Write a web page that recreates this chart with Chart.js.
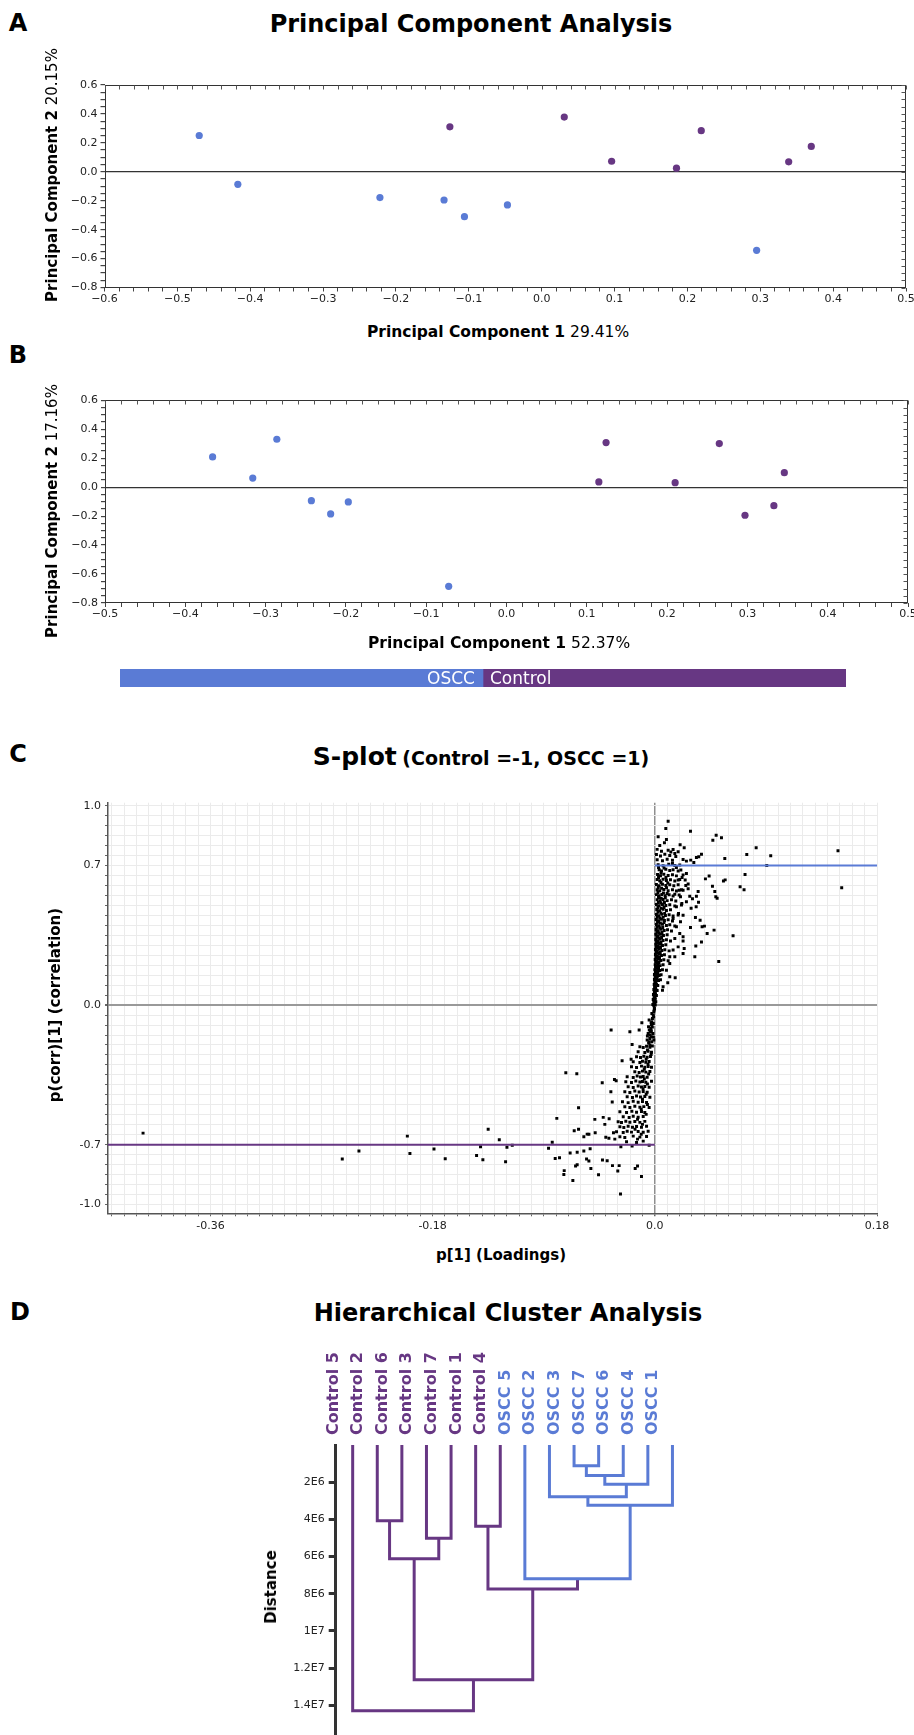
<!DOCTYPE html>
<html>
<head>
<meta charset="utf-8">
<title>PCA, S-plot and hierarchical clustering</title>
<script src="https://cdn.jsdelivr.net/npm/chart.js@4.4.0/dist/chart.umd.min.js"></script>
<style>
  body { margin: 0; background: #fff; }
  #page { position: relative; width: 914px; height: 1735px; overflow: hidden; font-family: "DejaVu Sans", sans-serif; color: #000; }
  #page canvas { position: absolute; }
  .lbl { position: absolute; white-space: nowrap; transform: translate(-50%, -50%); }
  .rot { position: absolute; white-space: nowrap; transform: translate(-50%, -50%) rotate(-90deg); }
  .big { font-weight: bold; font-size: 24px; }
</style>
</head>
<body>
<div id="page">
  <canvas id="pcaA" width="914" height="250" style="left:0;top:70px"></canvas>
  <canvas id="pcaB" width="914" height="250" style="left:0;top:385px"></canvas>
  <canvas id="classBar" width="726" height="18" style="left:120px;top:669px"></canvas>
  <canvas id="splot" width="914" height="450" style="left:0;top:790px"></canvas>
  <canvas id="hca" width="914" height="405" style="left:0;top:1330px"></canvas>

  <div class="lbl big" style="left:18px;top:23px">A</div>
  <div class="lbl big" style="left:471px;top:24px">Principal Component Analysis</div>
  <div class="rot" style="left:52px;top:175px;font-size:15px"><b>Principal Component 2</b> 20.15%</div>
  <div class="lbl" style="left:498px;top:332px;font-size:15.5px"><b>Principal Component 1</b> 29.41%</div>

  <div class="lbl big" style="left:18px;top:355px">B</div>
  <div class="rot" style="left:52px;top:511px;font-size:15px"><b>Principal Component 2</b> 17.16%</div>
  <div class="lbl" style="left:499px;top:643px;font-size:15.5px"><b>Principal Component 1</b> 52.37%</div>
  <div style="position:absolute;right:439px;top:668px;font-size:17px;line-height:20px;color:#fff">OSCC</div>
  <div style="position:absolute;left:490px;top:668px;font-size:17px;line-height:20px;color:#fff">Control</div>

  <div class="lbl big" style="left:18px;top:754px">C</div>
  <div class="lbl" style="left:481px;top:756px;font-weight:bold"><span style="font-size:25px">S-plot</span> <span style="font-size:19px">(Control =-1, OSCC =1)</span></div>
  <div class="rot" style="left:55px;top:1005px;font-size:15px;font-weight:bold">p(corr)[1] (correlation)</div>
  <div class="lbl" style="left:501px;top:1255px;font-size:15px;font-weight:bold">p[1] (Loadings)</div>

  <div class="lbl big" style="left:20px;top:1312px">D</div>
  <div class="lbl big" style="left:508px;top:1313px">Hierarchical Cluster Analysis</div>
  <div class="rot" style="left:271px;top:1587px;font-size:15px;font-weight:bold">Distance</div>
</div>

<script>
const BLUE = '#5a7bd5';
const PURPLE = '#673783';
const FONT = "'DejaVu Sans', sans-serif";

// ---- A: PCA scores, all features ----
const pcaA_osccX = [-0.470, -0.417, -0.222, -0.134, -0.106, -0.047, 0.295];
const pcaA_osccY = [0.251, -0.087, -0.178, -0.195, -0.310, -0.229, -0.543];
const pcaA_ctrlX = [-0.126, 0.031, 0.096, 0.185, 0.219, 0.339, 0.370];
const pcaA_ctrlY = [0.311, 0.378, 0.073, 0.025, 0.284, 0.069, 0.175];
const pcaA_xLabels = [-0.6, -0.5, -0.4, -0.3, -0.2, -0.1, 0, 0.1, 0.2, 0.3, 0.4, 0.5];

// ---- B: PCA scores, selected features ----
const pcaB_osccX = [-0.366, -0.316, -0.286, -0.243, -0.219, -0.197, -0.072];
const pcaB_osccY = [0.209, 0.063, 0.331, -0.093, -0.185, -0.102, -0.685];
const pcaB_ctrlX = [0.115, 0.124, 0.210, 0.265, 0.297, 0.333, 0.346];
const pcaB_ctrlY = [0.036, 0.308, 0.031, 0.301, -0.194, -0.128, 0.100];
const pcaB_xLabels = [-0.5, -0.4, -0.3, -0.2, -0.1, 0, 0.1, 0.2, 0.3, 0.4, 0.5];

const pca_yLabels = [-0.8, -0.6, -0.4, -0.2, 0, 0.2, 0.4, 0.6];
const classNames = ['OSCC', 'Control'];
const classCounts = [7, 7];

// ---- C: S-plot, [p[1], p(corr)[1]] ----
const splot_xLabels = [-0.36, -0.18, 0, 0.18];
const splot_yLabels = [-1.0, -0.7, 0, 0.7, 1.0];
const splot_cutoffs = [0.7, -0.7];

const splotPos = [
  [.0108,.922],[.0089,.886],[.0289,.872],[.0497,.852],[.0470,.827],[.0540,.839],[.0027,.844],[.0094,.830],
  [.0205,.804],[.0238,.789],[.0040,.800],[.0078,.814],[.0821,.789],[.0745,.755],[.0939,.749],[.1484,.774],
  [.0907,.700],[.1514,.588],[.0567,.735],[.0731,.655],[.0570,.628],[.0556,.622],[.0691,.593],[.0723,.578],
  [.0440,.647],[.0410,.633],[.0467,.596],[.0486,.570],[.0494,.543],[.0505,.536],[.0634,.348],[.0518,.219],
  [.0480,.376],[.0424,.359],[.0378,.316],[.0332,.296],[.0324,.242],[.0165,.137],[.0105,.112],[.0378,.757],
  [.0356,.744],[.0337,.740],[.0316,.715],[.0291,.727],[.0256,.722],[.0229,.730],[.0351,.570],[.0337,.546],
  [.0354,.516],[.0335,.493],[.0294,.486],[.0305,.533],[.0270,.583],[.0283,.546],[.0329,.439],[.0367,.426],
  [.0383,.393],[.0402,.396],[.0289,.389],[.0229,.322],[.0238,.284],[.0229,.259],
  [.0148,.780],[.0162,.760],[.0189,.769],[.0143,.710],[.0175,.690],[.0211,.677],[.0256,.660],[.0221,.640],
  [.0189,.627],[.0246,.627],[.0270,.607],[.0229,.576],[.0197,.576],[.0162,.556],[.0208,.543],[.0256,.518],
  [.0219,.510],[.0175,.493],[.0192,.459],[.0229,.451],[.0148,.434],[.0208,.418],[.0175,.393],[.0202,.359],
  [.0162,.334],[.0229,.343],[.0189,.292],[.0148,.276],[.0121,.242],[.0162,.242],[.0121,.209],[.0094,.175],
  [.0121,.142],[.0067,.092],[.0062,.075],
  [.0019,.781],[.0054,.771],[.0108,.777],[.0130,.768],
  [.0013,.755],[.0046,.748],[.0081,.757],[.0121,.750],[.0170,.745],
  [.0019,.729],[.0062,.724],[.0100,.731],[.0143,.726],
  [.0027,.704],[.0067,.699],[.0113,.706],[.0162,.700],[.0202,.703],
  [.0035,.679],[.0054,.673],[.0089,.681],[.0121,.675],[.0148,.679],[.0189,.672],
  [.0022,.655],[.0046,.649],[.0073,.656],[.0108,.650],[.0143,.654],[.0175,.648],[.0229,.653],
  [.0019,.630],[.0040,.624],[.0067,.631],[.0094,.625],[.0127,.629],[.0162,.622],[.0202,.630],
  [.0013,.605],[.0035,.599],[.0062,.606],[.0089,.600],[.0121,.604],[.0154,.598],[.0189,.603],[.0251,.600],
  [.0019,.579],[.0040,.573],[.0073,.580],[.0108,.574],[.0143,.578],[.0175,.572],[.0216,.579],
  [.0013,.554],[.0035,.548],[.0057,.555],[.0084,.549],[.0116,.553],[.0148,.547],[.0197,.552],
  [.0019,.529],[.0043,.523],[.0067,.530],[.0100,.524],[.0135,.528],[.0170,.522],
  [.0013,.504],[.0035,.498],[.0062,.505],[.0089,.499],[.0121,.503],[.0162,.497],[.0216,.502],
  [.0016,.479],[.0038,.473],[.0067,.480],[.0094,.474],[.0127,.478],
  [.0013,.454],[.0032,.448],[.0057,.455],[.0086,.449],[.0116,.453],[.0148,.447],[.0189,.452],
  [.0011,.429],[.0030,.423],[.0054,.430],[.0078,.424],[.0108,.428],[.0143,.422],
  [.0013,.404],[.0035,.398],[.0062,.405],[.0094,.399],[.0121,.403],[.0162,.397],
  [.0011,.379],[.0027,.373],[.0051,.380],[.0076,.374],[.0103,.378],[.0135,.372],
  [.0008,.354],[.0024,.348],[.0046,.355],[.0070,.349],[.0100,.353],
  [.0008,.329],[.0024,.323],[.0043,.330],[.0067,.324],[.0094,.328],[.0127,.322],
  [.0008,.304],[.0022,.298],[.0040,.305],[.0062,.299],[.0089,.303],
  [.0005,.279],[.0019,.273],[.0035,.280],[.0057,.274],[.0081,.278],[.0116,.272],
  [.0005,.254],[.0019,.248],[.0035,.255],[.0054,.249],[.0078,.253],
  [.0003,.229],[.0013,.223],[.0030,.230],[.0049,.224],[.0073,.228],[.0108,.222],
  [.0003,.203],[.0013,.197],[.0027,.204],[.0043,.198],[.0067,.202],
  [0,.178],[.0011,.172],[.0024,.179],[.0040,.173],[.0062,.177],
  [-.0003,.153],[.0008,.147],[.0019,.154],[.0035,.148],[.0051,.152],
  [-.0003,.128],[.0005,.122],[.0016,.129],[.0030,.123],[.0046,.127],
  [-.0005,.103],[.0003,.097],[.0013,.104],[.0024,.098],
  [-.0008,.078],[0,.072],[.0008,.079],[.0019,.073],
  [-.0011,.053],[-.0003,.047],[.0005,.054],[.0013,.048],
  [-.0013,.028],[-.0005,.022],[.0003,.029],[.0008,.017],
  [.0030,.690],[.0075,.688],[.0050,.662],[.0090,.640],[.0030,.640],[.0050,.615],[.0105,.612],[.0028,.590],
  [.0055,.586],[.0095,.588],[.0025,.565],[.0070,.562],[.0100,.560],[.0030,.540],[.0052,.536],[.0085,.538],
  [.0028,.515],[.0050,.512],[.0078,.514],[.0025,.490],[.0052,.486],[.0075,.490],[.0025,.465],[.0050,.462],
  [.0080,.460],[.0020,.440],[.0042,.437],[.0068,.440],[.0022,.415],[.0045,.412],[.0075,.414],[.0018,.390],
  [.0040,.387],[.0064,.389],[.0016,.365],[.0034,.362],[.0058,.364],[.0016,.340],[.0034,.337],[.0055,.339],
  [.0014,.315],[.0030,.312],[.0050,.314],[.0012,.290],[.0027,.287],[.0046,.289],[.0012,.265],[.0026,.262],
  [.0044,.264],[.0010,.240],[.0022,.237],[.0038,.239],[.0008,.215],[.0020,.212],[.0034,.214],[.0006,.190],
  [.0017,.187],[.0030,.189],[.0004,.165],[.0014,.162],[.0025,.164],[.0002,.140],[.0011,.137],[.0020,.139],
  [0,.115],[.0009,.112],[-.0002,.090],[.0006,.087],[-.0004,.065],[.0004,.062],[-.0006,.040],[.0002,.037],
  [-.0008,.015],[-.0016,.003],[0,.006]
];

const splotNeg = [
  [-.0008,-.003],[.0003,0],[-.0003,-.017],[-.0008,-.033],[-.0013,-.050],[-.0019,-.067],[-.0024,-.084],[-.0027,-.100],
  [-.0032,-.117],[-.0035,-.134],[-.0038,-.150],[-.0040,-.167],[-.0024,-.042],[-.0013,-.092],[-.0046,-.075],
  [-.0051,-.109],[-.0030,-.159],[-.0016,-.142],[-.0054,-.142],[-.0046,-.184],[-.0024,-.184],[-.0062,-.175],
  [-.0008,-.175],[-.0040,-.200],[-.0005,-.025],[-.0010,-.058],[-.0020,-.110],[-.0030,-.088],[-.0045,-.125],
  [-.0060,-.155],[-.0028,-.130],[-.0012,-.160],[-.0050,-.190],[-.0020,-.205],
  [-.0354,-.125],[-.0202,-.134],[-.0127,-.125],[-.0105,-.089],[-.0184,-.197],[-.0265,-.279],[-.0192,-.272],
  [-.0426,-.389],[-.0327,-.373],[-.0313,-.379],[-.0356,-.434],[-.0345,-.486],[-.0418,-.563],[-.0370,-.570],
  [-.0405,-.598],[-.0397,-.663],[-.0372,-.668],[-.0335,-.640],[-.0324,-.672],[-.0275,-.710],[-.0184,-.707],
  [-.0046,-.703],[-.0424,-.777],[-.0386,-.780],[-.0343,-.805],[-.0289,-.805],[-.0300,-.832],[-.0159,-.819],
  [-.0140,-.807],[-.0108,-.860],[-.0278,-.947],
  [-.0121,-.209],[-.0094,-.213],[-.0067,-.206],[-.0040,-.211],
  [-.0135,-.234],[-.0081,-.238],[-.0054,-.231],[-.0027,-.236],
  [-.0148,-.259],[-.0116,-.263],[-.0089,-.256],[-.0062,-.261],[-.0035,-.258],
  [-.0175,-.284],[-.0121,-.288],[-.0100,-.281],[-.0073,-.286],[-.0046,-.283],
  [-.0189,-.309],[-.0148,-.313],[-.0108,-.306],[-.0081,-.311],[-.0054,-.308],[-.0027,-.312],
  [-.0162,-.334],[-.0127,-.338],[-.0100,-.331],[-.0073,-.336],[-.0040,-.333],
  [-.0224,-.359],[-.0175,-.363],[-.0143,-.356],[-.0116,-.361],[-.0094,-.358],[-.0062,-.362],
  [-.0235,-.384],[-.0189,-.388],[-.0154,-.381],[-.0121,-.386],[-.0100,-.383],[-.0073,-.387],[-.0027,-.382],
  [-.0216,-.409],[-.0175,-.413],[-.0135,-.406],[-.0108,-.411],[-.0081,-.408],[-.0046,-.412],
  [-.0243,-.434],[-.0202,-.438],[-.0162,-.431],[-.0127,-.436],[-.0094,-.433],[-.0062,-.437],
  [-.0224,-.459],[-.0181,-.463],[-.0148,-.456],[-.0116,-.461],[-.0081,-.458],[-.0040,-.462],
  [-.0262,-.485],[-.0216,-.489],[-.0175,-.482],[-.0135,-.487],[-.0100,-.484],[-.0067,-.488],
  [-.0243,-.510],[-.0202,-.514],[-.0162,-.507],[-.0121,-.512],[-.0089,-.509],[-.0046,-.513],
  [-.0283,-.535],[-.0229,-.539],[-.0186,-.532],[-.0148,-.537],[-.0108,-.534],[-.0081,-.538],
  [-.0256,-.560],[-.0208,-.564],[-.0175,-.557],[-.0135,-.562],[-.0094,-.559],
  [-.0297,-.585],[-.0270,-.589],[-.0235,-.582],[-.0202,-.587],[-.0162,-.584],[-.0121,-.588],[-.0081,-.583],
  [-.0283,-.610],[-.0251,-.614],[-.0216,-.607],[-.0181,-.612],[-.0148,-.609],[-.0108,-.613],[-.0067,-.608],
  [-.0310,-.635],[-.0256,-.639],[-.0224,-.632],[-.0189,-.637],[-.0135,-.634],[-.0094,-.638],[-.0054,-.633],
  [-.0283,-.660],[-.0243,-.664],[-.0175,-.657],[-.0121,-.662],[-.0067,-.659],
  [-.0229,-.685],[-.0148,-.689],[-.0094,-.682],
  [-.0060,-.225],[-.0030,-.248],[-.0070,-.272],[-.0055,-.296],[-.0085,-.322],[-.0050,-.345],[-.0085,-.370],
  [-.0060,-.396],[-.0095,-.420],[-.0070,-.447],[-.0100,-.472],[-.0060,-.498],[-.0110,-.522],[-.0070,-.548],
  [-.0140,-.572],[-.0100,-.598],[-.0160,-.622],[-.0110,-.648],[-.0140,-.672],
  [-.4146,-.642],[-.2532,-.772],[-.2397,-.732],[-.2005,-.657],[-.1984,-.744],[-.1789,-.722],[-.1698,-.770],
  [-.1444,-.754],[-.1412,-.710],[-.1393,-.775],[-.1350,-.622],[-.1260,-.675],[-.1209,-.785],[-.1198,-.713],
  [-.1155,-.703],[-.0861,-.718],[-.0831,-.688],[-.0807,-.769],[-.0772,-.765],[-.0794,-.568],[-.0737,-.849],
  [-.0734,-.830],[-.0721,-.339],[-.0632,-.344],[-.0618,-.515],[-.0618,-.622],[-.0653,-.630],[-.0686,-.742],
  [-.0664,-.879],[-.0642,-.807],[-.0629,-.800],[-.0629,-.738],[-.0575,-.660],[-.0575,-.732],[-.0548,-.647],
  [-.0534,-.648],[-.0553,-.772],[-.0534,-.782],[-.0524,-.720],[-.0518,-.819],[-.0486,-.573],[-.0483,-.640],
  [-.0456,-.851]
];

// ---- D: dendrogram; merges are [node, node, distance], new nodes numbered after the leaves ----
const hcaLeaves = ['Control 5', 'Control 2', 'Control 6', 'Control 3', 'Control 7', 'Control 1', 'Control 4',
                   'OSCC 5', 'OSCC 2', 'OSCC 3', 'OSCC 7', 'OSCC 6', 'OSCC 4', 'OSCC 1'];
const hcaMerges = [
  [9, 10, 1.12e6],   // 14
  [14, 11, 1.64e6],  // 15
  [15, 12, 2.11e6],  // 16
  [8, 16, 2.79e6],   // 17
  [17, 13, 3.24e6],  // 18
  [1, 2, 4.08e6],    // 19
  [5, 6, 4.37e6],    // 20
  [3, 4, 5.01e6],    // 21
  [19, 21, 6.12e6],  // 22
  [7, 18, 7.20e6],   // 23
  [20, 23, 7.74e6],  // 24
  [22, 24, 12.63e6], // 25
  [0, 25, 14.3e6]    // 26
];
const hcaDistTicks = [2e6, 4e6, 6e6, 8e6, 1e7, 1.2e7, 1.4e7];
const hcaDistLabels = ['2E6', '4E6', '6E6', '8E6', '1E7', '1.2E7', '1.4E7'];

// tick positions for minor ticks / grid lines
function steps(min, max, step) {
  const out = [];
  const n = Math.round((max - min) / step);
  for (let i = 0; i <= n; i++) out.push(Math.round((min + i * step) * 1e4) / 1e4);
  return out;
}
const has = (arr, v) => arr.some(t => Math.abs(t - v) < 1e-6);
const isZero = c => c.tick && Math.abs(c.tick.value) < 1e-9;
const minus = (v, d) => (v < -1e-9 ? '\u2212' : '') + Math.abs(v).toFixed(d);

// box around the PCA plots, with inward ticks on the top and right edges
const frame = {
  id: 'frame',
  afterDatasetsDraw(chart) {
    const { ctx, chartArea: a, scales } = chart;
    const L = Math.round(a.left) + 0.5, T = Math.round(a.top) + 0.5;
    const R = Math.round(a.right) - 0.5, B = Math.round(a.bottom) - 0.5;
    ctx.save();
    ctx.strokeStyle = '#333';
    ctx.lineWidth = 1;
    ctx.strokeRect(L, T, R - L, B - T);
    ctx.strokeStyle = '#555';
    ctx.beginPath();
    scales.x.ticks.forEach(t => {
      const px = Math.round(scales.x.getPixelForValue(t.value)) + 0.5;
      ctx.moveTo(px, T); ctx.lineTo(px, T + 4);
    });
    scales.y.ticks.forEach(t => {
      const py = Math.round(scales.y.getPixelForValue(t.value)) + 0.5;
      ctx.moveTo(R, py); ctx.lineTo(R - 4, py);
    });
    ctx.stroke();
    ctx.restore();
  }
};

function pcaChart(id, canvasTop, area, oX, oY, cX, cY, xMin, xMax, xLabels) {
  const H = 250, yW = 40, xH = 22;
  new Chart(document.getElementById(id), {
    type: 'scatter',
    data: {
      datasets: [
        { label: classNames[0], data: oX.map((x, i) => ({ x, y: oY[i] })), backgroundColor: BLUE },
        { label: classNames[1], data: cX.map((x, i) => ({ x, y: cY[i] })), backgroundColor: PURPLE }
      ]
    },
    options: {
      responsive: false, animation: false, devicePixelRatio: 1,
      layout: { padding: { left: area.l - yW, right: 914 - area.r, top: area.t - canvasTop, bottom: canvasTop + H - area.b - xH } },
      elements: { point: { radius: 3.6, borderWidth: 0, hoverRadius: 3.6 } },
      plugins: { legend: { display: false }, tooltip: { enabled: false } },
      scales: {
        x: {
          type: 'linear', min: xMin, max: xMax,
          afterBuildTicks: s => { s.ticks = steps(xMin, xMax, 0.02).map(value => ({ value })); },
          afterFit: s => { s.height = xH; s.paddingLeft = 0; s.paddingRight = 0; },
          grid: { color: 'rgba(0,0,0,0)', tickColor: '#444', tickLength: 4 },
          border: { display: false },
          ticks: { autoSkip: false, maxRotation: 0, padding: 1, color: '#222', font: { family: FONT, size: 11 },
                   callback: v => has(xLabels, v) ? minus(v, 1) : '' }
        },
        y: {
          type: 'linear', min: -0.8, max: 0.6,
          afterBuildTicks: s => { s.ticks = steps(-0.8, 0.6, 0.05).map(value => ({ value })); },
          afterFit: s => { s.width = yW; s.paddingTop = 0; s.paddingBottom = 0; },
          grid: { color: c => isZero(c) ? '#333' : 'rgba(0,0,0,0)', lineWidth: 1.2, tickColor: '#444', tickLength: 4 },
          border: { display: false },
          ticks: { autoSkip: false, padding: 3, color: '#222', font: { family: FONT, size: 11 },
                   callback: v => has(pca_yLabels, v) ? minus(v, 1) : '' }
        }
      }
    },
    plugins: [frame]
  });
}

pcaChart('pcaA', 70, { l: 104.5, r: 906, t: 85, b: 287.5 },
  pcaA_osccX, pcaA_osccY, pcaA_ctrlX, pcaA_ctrlY, -0.6, 0.5, pcaA_xLabels);
pcaChart('pcaB', 385, { l: 105, r: 908, t: 400.3, b: 603 },
  pcaB_osccX, pcaB_osccY, pcaB_ctrlX, pcaB_ctrlY, -0.5, 0.5, pcaB_xLabels);

// class colour bar under B
new Chart(document.getElementById('classBar'), {
  type: 'bar',
  data: {
    labels: ['class'],
    datasets: classNames.map((n, i) => ({ label: n, data: [classCounts[i]], backgroundColor: i === 0 ? BLUE : PURPLE,
                                          barPercentage: 1, categoryPercentage: 1 }))
  },
  options: {
    indexAxis: 'y', responsive: false, animation: false, devicePixelRatio: 1,
    layout: { padding: 0 },
    plugins: { legend: { display: false }, tooltip: { enabled: false } },
    scales: {
      x: { stacked: true, display: false, min: 0, max: classCounts[0] + classCounts[1] },
      y: { stacked: true, display: false }
    }
  }
});

// S-plot
const sMin = -0.443, sMax = 0.18;
const sTop = 790, sH = 450, sArea = { l: 108, r: 877, t: 802.7, b: 1213.3 };
new Chart(document.getElementById('splot'), {
  type: 'scatter',
  data: {
    datasets: [
      { label: 'OSCC cutoff', data: [{ x: 0, y: splot_cutoffs[0] }, { x: sMax, y: splot_cutoffs[0] }],
        showLine: true, borderColor: BLUE, borderWidth: 2, pointRadius: 0 },
      { label: 'Control cutoff', data: [{ x: sMin, y: splot_cutoffs[1] }, { x: 0, y: splot_cutoffs[1] }],
        showLine: true, borderColor: PURPLE, borderWidth: 2, pointRadius: 0 },
      { label: 'variables', data: splotPos.concat(splotNeg).map(([x, y]) => ({ x, y })),
        backgroundColor: '#000', pointStyle: 'rect', pointRadius: 2.1, borderWidth: 0 }
    ]
  },
  options: {
    responsive: false, animation: false, devicePixelRatio: 1,
    layout: { padding: { left: sArea.l - 40, right: 914 - sArea.r, top: sArea.t - sTop, bottom: sTop + sH - sArea.b - 22 } },
    plugins: { legend: { display: false }, tooltip: { enabled: false } },
    scales: {
      x: {
        type: 'linear', min: sMin, max: sMax,
        afterBuildTicks: s => { s.ticks = steps(-0.44, 0.18, 0.01).map(value => ({ value })); },
        afterFit: s => { s.height = 22; s.paddingLeft = 0; s.paddingRight = 0; },
        grid: { color: c => isZero(c) ? '#8f8f8f' : '#ebebeb', lineWidth: c => isZero(c) ? 1.5 : 1,
                tickColor: '#666', tickLength: 3 },
        border: { display: true, color: '#555', width: 1.5 },
        ticks: { autoSkip: false, maxRotation: 0, padding: 3, color: '#222', font: { family: FONT, size: 11 },
                 callback: v => has(splot_xLabels, v) ? (Math.abs(v) < 1e-9 ? '0.0' : String(v)) : '' }
      },
      y: {
        type: 'linear', min: -1.044, max: 1.015,
        afterBuildTicks: s => { s.ticks = steps(-1, 1, 0.05).map(value => ({ value })); },
        afterFit: s => { s.width = 40; s.paddingTop = 0; s.paddingBottom = 0; },
        grid: { color: c => isZero(c) ? '#999' : '#ebebeb', lineWidth: c => isZero(c) ? 2 : 1,
                tickColor: '#666', tickLength: 3 },
        border: { display: true, color: '#555', width: 1.5 },
        ticks: { autoSkip: false, padding: 4, color: '#222', font: { family: FONT, size: 11 },
                 callback: v => has(splot_yLabels, v) ? v.toFixed(1) : '' }
      }
    }
  }
});

// dendrogram
const nodeX = [], nodeH = [], nodeOscc = [];
hcaLeaves.forEach((name, i) => { nodeX[i] = i; nodeH[i] = 0; nodeOscc[i] = name.startsWith('OSCC'); });
const treeSets = hcaMerges.map(([a, b, h], k) => {
  const id = hcaLeaves.length + k;
  nodeX[id] = (nodeX[a] + nodeX[b]) / 2;
  nodeH[id] = h;
  nodeOscc[id] = nodeOscc[a] && nodeOscc[b];
  return {
    label: 'merge ' + id,
    data: [{ x: nodeX[a], y: nodeH[a] }, { x: nodeX[a], y: h }, { x: nodeX[b], y: h }, { x: nodeX[b], y: nodeH[b] }],
    showLine: true, borderColor: nodeOscc[id] ? BLUE : PURPLE, borderWidth: 3,
    borderJoinStyle: 'miter', pointRadius: 0, tension: 0
  };
});

const hTop = 1330, hArea = { l: 335.7, r: 700, t: 1445 };
new Chart(document.getElementById('hca'), {
  type: 'scatter',
  data: { datasets: treeSets },
  options: {
    responsive: false, animation: false, devicePixelRatio: 1,
    layout: { padding: { left: hArea.l - 60, right: 914 - hArea.r, top: hArea.t - hTop - 100, bottom: 0 } },
    plugins: { legend: { display: false }, tooltip: { enabled: false } },
    scales: {
      x: {
        type: 'linear', position: 'top', min: -0.69, max: 14.12,
        afterBuildTicks: s => { s.ticks = hcaLeaves.map((_, i) => ({ value: i })); },
        afterFit: s => { s.height = 100; s.paddingLeft = 0; s.paddingRight = 0; },
        grid: { display: false, drawTicks: false },
        border: { display: false },
        ticks: { autoSkip: false, minRotation: 90, maxRotation: 90, padding: 10,
                 font: { family: FONT, size: 16, weight: 'bold' },
                 color: c => hcaLeaves[c.index] && hcaLeaves[c.index].startsWith('OSCC') ? BLUE : PURPLE,
                 callback: (v, i) => hcaLeaves[i] }
      },
      y: {
        type: 'linear', reverse: true, min: 0, max: 15.6e6,
        afterBuildTicks: s => { s.ticks = hcaDistTicks.map(value => ({ value })); },
        afterFit: s => { s.width = 60; s.paddingTop = 0; s.paddingBottom = 0; },
        grid: { drawOnChartArea: false, drawTicks: true, tickLength: 7, tickWidth: 3, tickColor: '#333' },
        border: { display: true, color: '#333', width: 3 },
        ticks: { autoSkip: false, padding: 4, color: '#222', font: { family: FONT, size: 11 },
                 callback: (v, i) => hcaDistLabels[i] }
      }
    }
  }
});
</script>
</body>
</html>
